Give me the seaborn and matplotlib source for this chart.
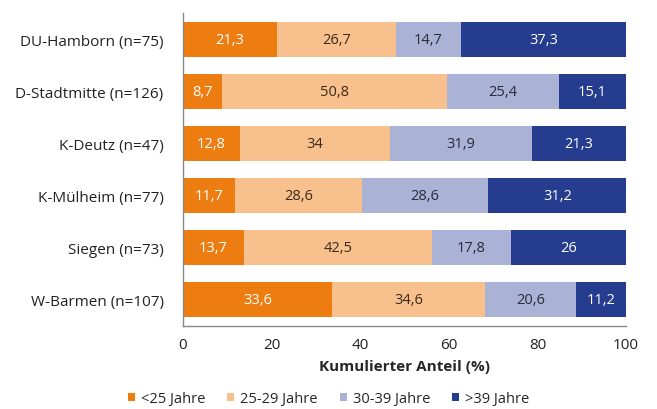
import numpy as np
import pandas as pd
import matplotlib
matplotlib.use("Agg")
import matplotlib.pyplot as plt
import seaborn as sns
from matplotlib.patches import Patch

categories = ["DU-Hamborn (n=75)", "D-Stadtmitte (n=126)", "K-Deutz (n=47)",
              "K-Mülheim (n=77)", "Siegen (n=73)", "W-Barmen (n=107)"]
series = ["<25 Jahre", "25-29 Jahre", "30-39 Jahre", ">39 Jahre"]
v_lt25 = [21.3, 8.7, 12.8, 11.7, 13.7, 33.6]
v_25_29 = [26.7, 50.8, 34.0, 28.6, 42.5, 34.6]
v_30_39 = [14.7, 25.4, 31.9, 28.6, 17.8, 20.6]
v_gt39 = [37.3, 15.1, 21.3, 31.2, 26.0, 11.2]
labels_lt25 = ["21,3", "8,7", "12,8", "11,7", "13,7", "33,6"]
labels_25_29 = ["26,7", "50,8", "34", "28,6", "42,5", "34,6"]
labels_30_39 = ["14,7", "25,4", "31,9", "28,6", "17,8", "20,6"]
labels_gt39 = ["37,3", "15,1", "21,3", "31,2", "26", "11,2"]
xticks = [0, 20, 40, 60, 80, 100]

colors = ["#EE7D11", "#F8C08C", "#AAB2D6", "#253C8F"]
text_colors = ["white", "#3a2a1a", "#2a2a3a", "white"]

sns.set_theme(style="white")
plt.rcParams['font.family'] = ['Open Sans', 'DejaVu Sans']

df = pd.DataFrame({"cat": categories, "a": v_lt25, "b": v_25_29, "c": v_30_39, "d": v_gt39})
vals = df[["a", "b", "c", "d"]].to_numpy()
cum = np.cumsum(vals, axis=1)

fig = plt.figure(figsize=(6.57, 4.10), dpi=100)
ax = fig.add_axes([0.2785, 0.2024, 0.953 - 0.2785, 0.966 - 0.2024])

for j in range(3, -1, -1):
    sns.barplot(x=cum[:, j], y=df["cat"], color=colors[j], orient="h", width=0.67,
                ax=ax, saturation=1, linewidth=0)

all_labels = [labels_lt25, labels_25_29, labels_30_39, labels_gt39]
for j in range(4):
    for i in range(len(categories)):
        center = cum[i, j] - vals[i, j] / 2
        ax.text(center, i, all_labels[j][i], ha="center", va="center",
                color=text_colors[j], fontsize=10.5)

ax.set_xlim(0, 100)
ax.set_ylim(5.5, -0.5)
ax.set_xticks(xticks)
ax.set_xticklabels([str(t) for t in xticks], fontsize=11, color="#222222")
ax.set_yticks(range(len(categories)))
ax.set_yticklabels(categories, fontsize=11, color="#222222")
ax.tick_params(axis="y", length=0, pad=14)
ax.tick_params(axis="x", length=0, pad=8)
ax.set_xlabel("Kumulierter Anteil (%)", fontsize=11, fontweight="bold", labelpad=5)
ax.set_ylabel("")
for s in ["top", "right"]:
    ax.spines[s].set_visible(False)
for s in ["left", "bottom"]:
    ax.spines[s].set_color("#888888")
    ax.spines[s].set_linewidth(1.0)

ax.set_yticks(np.arange(-0.5, 6, 1), minor=True)
ax.tick_params(axis="y", which="minor", length=4, color="#888888", direction="out")
ax.set_xticks(xticks, minor=True)
ax.tick_params(axis="x", which="minor", length=4, color="#888888", direction="in")

h = [Patch(facecolor=colors[k], edgecolor="none") for k in range(4)]
fig.legend(h, series, loc="lower center", bbox_to_anchor=(0.5, -0.025), ncol=4,
           frameon=False, fontsize=10.5, handlelength=0.5, handleheight=0.5,
           handletextpad=0.4, columnspacing=1.5)

fig.savefig("out.png", dpi=100)
